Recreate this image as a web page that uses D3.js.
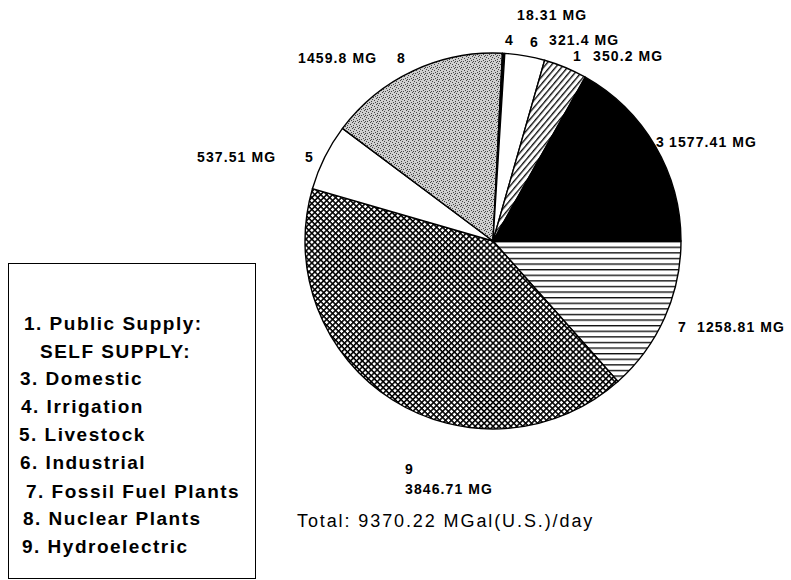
<!DOCTYPE html>
<html>
<head>
<meta charset="utf-8">
<script src="https://cdn.jsdelivr.net/npm/d3@7"></script>
<style>
  html, body { margin: 0; padding: 0; background: #fff; }
  svg { display: block; }
</style>
</head>
<body>
<svg id="chart" width="791" height="580"></svg>
<script>
// ---- data (clockwise from 3 o'clock) ----
const sliceIds = ["7", "9", "5", "8", "4", "6", "1", "3"];
const sliceValues = [1258.81, 3846.71, 537.51, 1459.8, 18.31, 321.4, 350.2, 1577.41];
const sliceUnit = "MG";
const legendItems = [
  "1. Public Supply:",
  "SELF SUPPLY:",
  "3. Domestic",
  "4. Irrigation",
  "5. Livestock",
  "6. Industrial",
  "7. Fossil Fuel Plants",
  "8. Nuclear Plants",
  "9. Hydroelectric"
];
const totalLabel = "Total: 9370.22 MGal(U.S.)/day";

// ---- layout / style (not data) ----
const W = 791, H = 580;
const cx = 493, cy = 241, R = 188;
const fills = {"7": "url(#hlines)", "9": "url(#xhatch)", "5": "#fff", "8": "url(#stipple)",
               "4": "#000", "6": "#fff", "1": "url(#diag)", "3": "#000"};
// label placement: id tag (x,y) and value text (x,y)
const labelLayout = {
  "7": {tx: 678, ty: 332, vx: 697, vy: 332},
  "9": {tx: 405, ty: 474, vx: 405, vy: 494},
  "5": {tx: 305, ty: 162, vx: 197, vy: 162},
  "8": {tx: 397, ty: 63,  vx: 298, vy: 63},
  "4": {tx: 505, ty: 45,  vx: 517, vy: 20},
  "6": {tx: 530, ty: 47,  vx: 549, vy: 45},
  "1": {tx: 573, ty: 61,  vx: 593, vy: 61},
  "3": {tx: 656, ty: 147, vx: 669, vy: 147}
};
const legendBox = {x: 8, y: 263, w: 247, h: 315};
const legendLayout = [
  {x: 24, y: 330}, {x: 40, y: 358}, {x: 20, y: 385}, {x: 21, y: 413},
  {x: 19, y: 441}, {x: 20, y: 469}, {x: 26, y: 498}, {x: 23, y: 525}, {x: 22, y: 553}
];

const svg = d3.select("#chart");
const defs = svg.append("defs");

// horizontal lines
const ph = defs.append("pattern").attr("id", "hlines").attr("patternUnits", "userSpaceOnUse")
  .attr("width", 8).attr("height", 5.6);
ph.append("rect").attr("width", 8).attr("height", 5.6).attr("fill", "#fff");
ph.append("line").attr("x1", 0).attr("x2", 8).attr("y1", 0.7).attr("y2", 0.7)
  .attr("stroke", "#000").attr("stroke-width", 1.3);

// diagonal "/" hatching
const pd = defs.append("pattern").attr("id", "diag").attr("patternUnits", "userSpaceOnUse")
  .attr("width", 8).attr("height", 4.6).attr("patternTransform", "rotate(-50)");
pd.append("rect").attr("width", 8).attr("height", 4.6).attr("fill", "#fff");
pd.append("line").attr("x1", 0).attr("x2", 8).attr("y1", 0.7).attr("y2", 0.7)
  .attr("stroke", "#000").attr("stroke-width", 1.3);

// cross hatch
const px = defs.append("pattern").attr("id", "xhatch").attr("patternUnits", "userSpaceOnUse")
  .attr("width", 4.2).attr("height", 4.2).attr("patternTransform", "rotate(45)");
px.append("rect").attr("width", 4.2).attr("height", 4.2).attr("fill", "#fff");
px.append("line").attr("x1", 0).attr("x2", 4.2).attr("y1", 0.75).attr("y2", 0.75)
  .attr("stroke", "#000").attr("stroke-width", 1.6);
px.append("line").attr("y1", 0).attr("y2", 4.2).attr("x1", 0.75).attr("x2", 0.75)
  .attr("stroke", "#000").attr("stroke-width", 1.6);

// stipple
const ps = defs.append("pattern").attr("id", "stipple").attr("patternUnits", "userSpaceOnUse")
  .attr("width", 6).attr("height", 6);
ps.append("rect").attr("width", 6).attr("height", 6).attr("fill", "#cfcfcf");
[[0,0],[3,1],[1,3],[4,4],[5,2],[2,5],[4,0]].forEach(([x, y]) =>
  ps.append("rect").attr("x", x).attr("y", y).attr("width", 1).attr("height", 1).attr("fill", "#444"));

// ---- pie ----
const data = sliceIds.map((id, i) => ({id, value: sliceValues[i]}));
const pie = d3.pie().sort(null).value(d => d.value)
  .startAngle(Math.PI / 2).endAngle(Math.PI / 2 + 2 * Math.PI);
const arc = d3.arc().innerRadius(0).outerRadius(R);
const arcs = pie(data);

const g = svg.append("g").attr("transform", `translate(${cx},${cy})`);
g.selectAll("path.slice").data(arcs).join("path")
  .attr("class", "slice")
  .attr("d", arc)
  .attr("fill", d => fills[d.data.id])
  .attr("stroke", "#000")
  .attr("stroke-width", 1.4)
  .attr("stroke-linejoin", "round");

// ---- slice labels ----
const labFont = "'Liberation Sans', Arial, Helvetica, sans-serif";
const lg = svg.append("g").attr("font-family", labFont).attr("font-weight", "bold")
  .attr("font-size", 14).attr("letter-spacing", 1.1).attr("fill", "#000");
arcs.forEach(a => {
  const L = labelLayout[a.data.id];
  lg.append("text").attr("x", L.tx).attr("y", L.ty).text(a.data.id);
  lg.append("text").attr("x", L.vx).attr("y", L.vy).text(`${a.data.value} ${sliceUnit}`);
});

// ---- legend ----
svg.append("rect").attr("x", legendBox.x + 0.5).attr("y", legendBox.y + 0.5)
  .attr("width", legendBox.w).attr("height", legendBox.h)
  .attr("fill", "none").attr("stroke", "#000").attr("stroke-width", 1);
const leg = svg.append("g").attr("font-family", labFont).attr("font-weight", "bold")
  .attr("font-size", 19).attr("letter-spacing", 1.5).attr("fill", "#000");
legendItems.forEach((t, i) => {
  leg.append("text").attr("x", legendLayout[i].x).attr("y", legendLayout[i].y).text(t);
});

// ---- total ----
svg.append("text").attr("x", 297).attr("y", 527)
  .attr("font-family", labFont).attr("font-size", 18).attr("letter-spacing", 1.9)
  .attr("fill", "#000").text(totalLabel);
</script>
</body>
</html>
